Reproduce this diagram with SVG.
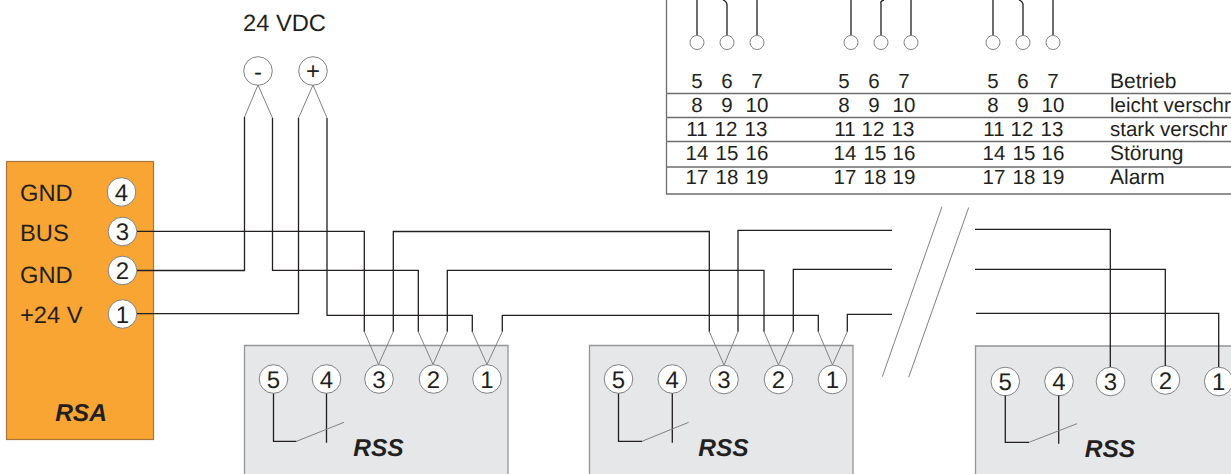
<svg xmlns="http://www.w3.org/2000/svg" width="1231" height="474" viewBox="0 0 1231 474">
<style>
text{font-family:"Liberation Sans",Arial,sans-serif;fill:#231f20;text-rendering:geometricPrecision}
.t{font-size:23.7px}
.n{font-size:24px;text-anchor:middle}
.m{font-size:20.5px;text-anchor:middle}
.l{font-size:21px}
.lf{font-size:20.5px}
.b{font-size:24.5px;font-weight:bold;font-style:italic;text-anchor:middle}
.w{fill:none;stroke:#231f20;stroke-width:1.3}
.g{fill:none;stroke:#808285;stroke-width:1}
.c{fill:#fff;stroke:#808285;stroke-width:1}
.k{fill:none;stroke:#6d6e71;stroke-width:1.3}
.box{fill:#e6e7e8;stroke:#939598;stroke-width:1.3}
</style>
<rect width="1231" height="474" fill="#fff"/>

<g id="table">
<path class="k" d="M666.5 0V194H1231M666.5 93.5H1231M666.5 117.5H1231M666.5 141.5H1231M666.5 167H1231"/>
<path class="w" d="M697 0V35M727 4V35M727 4Q726 1 723 0M757 0V35M851 0V35M881 35V4Q880 1 884 0M911 0V35M993 0V35M1023 35V4Q1022 1 1019 0M1053 0V35"/>
<g class="c"><circle cx="697" cy="42.5" r="7"/><circle cx="727" cy="42.5" r="7"/><circle cx="757" cy="42.5" r="7"/><circle cx="851" cy="42.5" r="7"/><circle cx="881" cy="42.5" r="7"/><circle cx="911" cy="42.5" r="7"/><circle cx="993" cy="42.5" r="7"/><circle cx="1023" cy="42.5" r="7"/><circle cx="1053" cy="42.5" r="7"/></g>
<g class="m">
<text class="m" x="697" y="88">5</text><text class="m" x="727" y="88">6</text><text class="m" x="757" y="88">7</text>
<text class="m" x="697" y="112">8</text><text class="m" x="727" y="112">9</text><text class="m" x="757" y="112">10</text>
<text class="m" x="697" y="136">11</text><text class="m" x="726" y="136">12</text><text class="m" x="756" y="136">13</text>
<text class="m" x="697" y="160">14</text><text class="m" x="727" y="160">15</text><text class="m" x="757" y="160">16</text>
<text class="m" x="697" y="184">17</text><text class="m" x="727" y="184">18</text><text class="m" x="757" y="184">19</text>
<text class="m" x="844" y="88">5</text><text class="m" x="874" y="88">6</text><text class="m" x="904" y="88">7</text>
<text class="m" x="844" y="112">8</text><text class="m" x="874" y="112">9</text><text class="m" x="904" y="112">10</text>
<text class="m" x="845" y="136">11</text><text class="m" x="873" y="136">12</text><text class="m" x="903" y="136">13</text>
<text class="m" x="845" y="160">14</text><text class="m" x="875" y="160">15</text><text class="m" x="904" y="160">16</text>
<text class="m" x="845" y="184">17</text><text class="m" x="875" y="184">18</text><text class="m" x="904" y="184">19</text>
<text class="m" x="993" y="88">5</text><text class="m" x="1023" y="88">6</text><text class="m" x="1053" y="88">7</text>
<text class="m" x="993" y="112">8</text><text class="m" x="1023" y="112">9</text><text class="m" x="1053" y="112">10</text>
<text class="m" x="994" y="136">11</text><text class="m" x="1022" y="136">12</text><text class="m" x="1052" y="136">13</text>
<text class="m" x="994" y="160">14</text><text class="m" x="1024" y="160">15</text><text class="m" x="1053" y="160">16</text>
<text class="m" x="994" y="184">17</text><text class="m" x="1024" y="184">18</text><text class="m" x="1053" y="184">19</text>
</g>
<text class="l" x="1110" y="88">Betrieb</text>
<text class="lf" x="1110" y="112">leicht verschr</text>
<text class="lf" x="1110" y="136">stark verschr</text>
<text class="l" x="1110" y="160">Störung</text>
<text class="l" x="1110" y="184">Alarm</text>
</g>

<g id="supply">
<text class="t" x="243" y="31">24 VDC</text>
<circle class="c" cx="258" cy="71" r="14.3"/><text class="n" x="258" y="80">-</text>
<circle class="c" cx="313" cy="71" r="14.3"/><text class="n" x="313" y="79">+</text>
<path class="g" d="M244.5 117L258 85L272.5 118M298.5 118L313 85L327 118"/>
</g>

<g id="rsa">
<rect x="6.5" y="161.5" width="147" height="278" fill="#f9a533" stroke="#a9753a" stroke-width="1.2"/>
<text class="t" x="20" y="201">GND</text><text class="t" x="20" y="241">BUS</text><text class="t" x="20" y="283">GND</text><text class="t" x="20" y="323">+24 V</text>
<circle class="c" cx="121.5" cy="192" r="14.3"/><text class="n" x="121.5" y="200.5">4</text>
<circle class="c" cx="122.5" cy="231.5" r="14.3"/><text class="n" x="122.5" y="240">3</text>
<circle class="c" cx="122.5" cy="270.5" r="14.3"/><text class="n" x="122.5" y="279">2</text>
<circle class="c" cx="122.5" cy="314" r="14.3"/><text class="n" x="122.5" y="322.5">1</text>
<text class="b" x="81" y="421">RSA</text>
</g>

<g id="rss1">
<path class="box" d="M244.5 474V345.5H508V474"/>
<circle class="c" cx="273.5" cy="379" r="14.3"/><text class="n" x="273.5" y="387.5">5</text>
<circle class="c" cx="326.5" cy="379" r="14.3"/><text class="n" x="326.5" y="387.5">4</text>
<circle class="c" cx="379" cy="379" r="14.3"/><text class="n" x="379" y="387.5">3</text>
<circle class="c" cx="433.5" cy="379" r="14.3"/><text class="n" x="433.5" y="387.5">2</text>
<circle class="c" cx="487" cy="379" r="14.3"/><text class="n" x="487" y="387.5">1</text>
<path class="w" d="M273.5 393.5V441.3H296.5M326.5 393.5V442.7"/><path class="g" d="M296.5 441.3L344 422.3"/>
<text class="b" x="378.5" y="456">RSS</text>
</g>

<g id="rss2">
<path class="box" d="M589.5 474V345.5H853V474"/>
<circle class="c" cx="618.5" cy="379" r="14.3"/><text class="n" x="618.5" y="387.5">5</text>
<circle class="c" cx="672.3" cy="379" r="14.3"/><text class="n" x="672.3" y="387.5">4</text>
<circle class="c" cx="724" cy="379.5" r="14.3"/><text class="n" x="724" y="388">3</text>
<circle class="c" cx="778.5" cy="379.5" r="14.3"/><text class="n" x="778.5" y="388">2</text>
<circle class="c" cx="832.5" cy="379.5" r="14.3"/><text class="n" x="832.5" y="388">1</text>
<path class="w" d="M618.5 393.5V441.3H642M672.3 393.5V442.7"/><path class="g" d="M642 441.3L688.7 422.3"/>
<text class="b" x="723.5" y="456">RSS</text>
</g>

<g id="rss3">
<path class="box" d="M975.5 475V346H1232V475Z"/>
<circle class="c" cx="1005.3" cy="381.5" r="14.3"/><text class="n" x="1005.3" y="390">5</text>
<circle class="c" cx="1059" cy="381.5" r="14.3"/><text class="n" x="1059" y="390">4</text>
<circle class="c" cx="1110.5" cy="381.5" r="14.3"/><text class="n" x="1110.5" y="390">3</text>
<circle class="c" cx="1165.5" cy="380" r="14.3"/><text class="n" x="1165.5" y="388.5">2</text>
<circle class="c" cx="1218.7" cy="381.5" r="14.3"/><text class="n" x="1218.7" y="390">1</text>
<path class="w" d="M1005.3 395.5V442.3H1029M1058.7 395.5V443.7"/><path class="g" d="M1029 442.3L1077 423.7"/>
<text class="b" x="1110" y="457">RSS</text>
</g>

<g id="connectors">
<path class="w" d="M137 231.3H364.3V331.7M393.3 331.7V231.5H709.3V331.7M738 331.7V230.3H892"/>
<path class="w" d="M137 270.5H244.5V117M272.5 118V270.3H418.3V331.7M447.3 331.7V270.3H764V331.7M793.3 331.7V269.3H892"/>
<path class="w" d="M137 313.7H298.5V118M327 118V315.3H472.3V331.7M502.3 331.7V315.3H818.3V331.7M847.3 331.7V314.3H892"/>
<path class="g" d="M364.3 331.7L378.5 364.5L393.3 331.7M418.3 331.7L433 364.5L447.3 331.7M472.3 331.7L487 364.5L502.3 331.7M709.3 331.7L724 365L738 331.7M764 331.7L778.5 365L793.3 331.7M818.3 331.7L832.5 365L847.3 331.7"/>
<path class="w" d="M975 229.3H1110.3V367M975 269.3H1165.3V366M976 313.3H1218.7V367"/>
<path class="g" d="M942 206.7L882.3 376.7M968.7 207.5L908.7 377.3"/>
</g>
</svg>
